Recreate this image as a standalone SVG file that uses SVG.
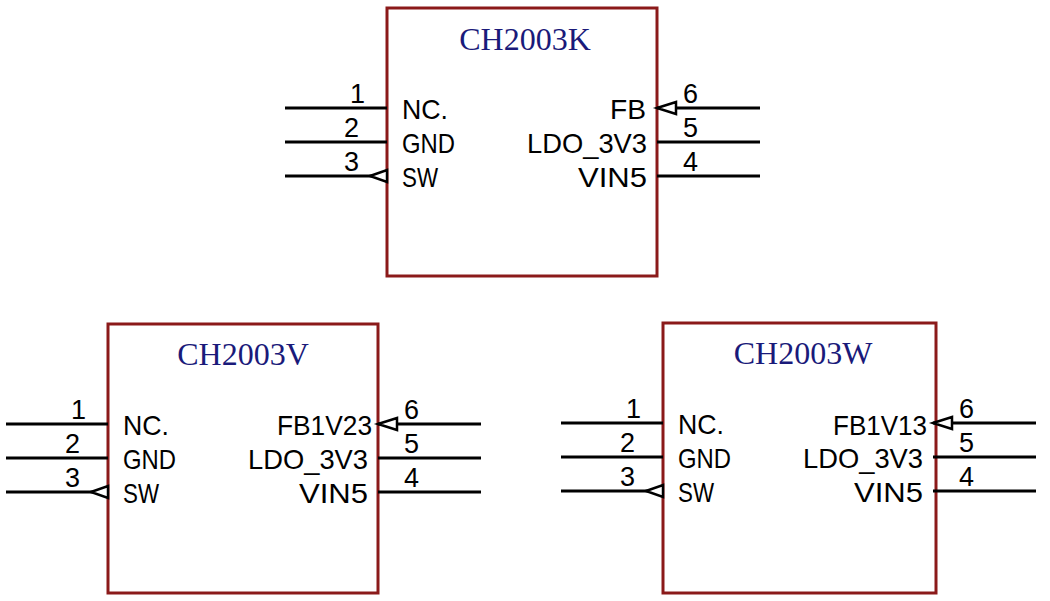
<svg xmlns="http://www.w3.org/2000/svg" width="1050" height="601" viewBox="0 0 1050 601">
<style>
.box{fill:#fff;stroke:#8B1A1A;stroke-width:3}
.w{stroke:#000;stroke-width:3;fill:none}
.tri{fill:#fff;stroke:#000;stroke-width:2.5}
.t{font-family:"Liberation Serif",serif;font-size:32px;fill:#1a1a7a;text-anchor:middle}
.l{font-family:"Liberation Sans",sans-serif;font-size:28px;fill:#000}
.r{text-anchor:end}
.n{font-family:"Liberation Sans",sans-serif;font-size:27px;fill:#000}
</style>
<defs>
<g id="pins">
<g class="w"><path d="M285 108H387M285 142H387M285 176H387M657 108H760M657 142H760M657 176H760"/></g>
<text class="n" x="350" y="103">1</text><text class="n" x="344" y="137">2</text><text class="n" x="344" y="171">3</text>
<text class="n" x="683" y="103">6</text><text class="n" x="683" y="137">5</text><text class="n" x="683" y="171">4</text>
<text class="l" x="402" y="119" textLength="46" lengthAdjust="spacingAndGlyphs">NC.</text>
<text class="l" x="402" y="153" textLength="53" lengthAdjust="spacingAndGlyphs">GND</text>
<text class="l" x="402" y="187" textLength="36" lengthAdjust="spacingAndGlyphs">SW</text>
<text class="l" x="527" y="153" textLength="120" lengthAdjust="spacingAndGlyphs">LDO_3V3</text>
<text class="l" x="578" y="187" textLength="69" lengthAdjust="spacingAndGlyphs">VIN5</text>
<path class="tri" d="M370 176L387 170V182Z"/><path class="tri" d="M657 108L676 102V114Z"/>
</g>
</defs>
<g id="CH2003K">
<rect class="box" x="387" y="8" width="270" height="268"/>
<use href="#pins"/>
<text class="t" x="525" y="50">CH2003K</text>
<text class="l" x="610" y="119" textLength="36" lengthAdjust="spacingAndGlyphs">FB</text>
</g>
<g id="CH2003V" transform="translate(-279,316)">
<rect class="box" x="387" y="8" width="270" height="269"/>
<use href="#pins"/>
<text class="t" x="522" y="49">CH2003V</text>
<text class="l" x="556" y="119" textLength="95" lengthAdjust="spacingAndGlyphs">FB1V23</text>
</g>
<g id="CH2003W" transform="translate(276,315)">
<rect class="box" x="387" y="8" width="273" height="270"/>
<use href="#pins"/>
<text class="t" x="527" y="49">CH2003W</text>
<text class="l" x="557" y="120" textLength="94" lengthAdjust="spacingAndGlyphs">FB1V13</text>
</g>
<g id="connectors"/>
</svg>
